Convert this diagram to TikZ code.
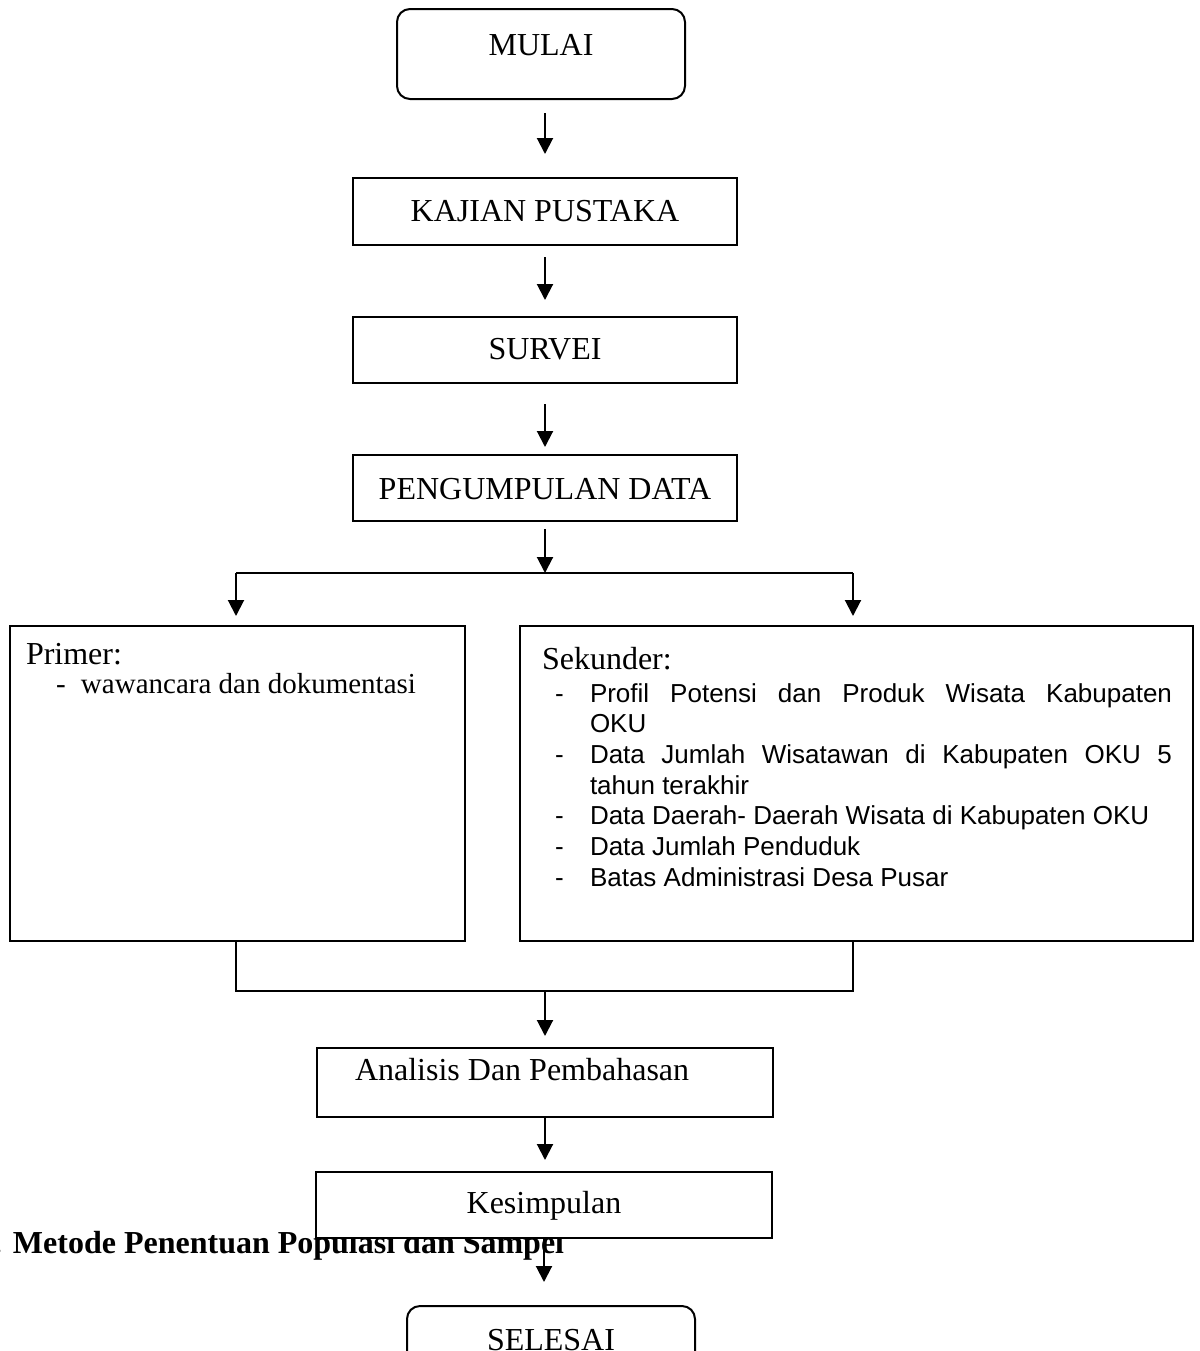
\documentclass[tikz,border=0pt]{standalone}
\usepackage{fontspec}
\setmainfont{Liberation Serif}
\newfontfamily\arialfont{Liberation Sans}
\usetikzlibrary{arrows.meta,positioning}
\newcommand{\butir}[1]{\hangindent=17.5pt\hangafter=1\noindent\makebox[17.5pt][l]{-}#1\par}

\begin{document}
\begin{tikzpicture}[x=0.5pt,y=-0.5pt,line width=1pt,
    kotak/.style={draw,rectangle,inner sep=0pt,font=\fontsize{16}{19}\selectfont},
    mulaiselesai/.style={kotak,rounded corners=6.5pt,minimum width=144pt,text height=22pt,text depth=23pt},
    langkah/.style={kotak,minimum width=192pt,text height=20.5pt,text depth=13pt},
    teks/.style={inner sep=0pt,font=\fontsize{16}{19}\selectfont},
    panah/.style={-{Triangle[length=8pt,width=8pt]}}]
    \useasboundingbox (0,0) rectangle (1200,1351);
    \node[teks,anchor=base west,font=\bfseries\fontsize{16}{19}\selectfont] (judul) at (12,1253) {\llap{.\hspace{5.5pt}}Metode Penentuan Populasi dan Sampel};
    \node[mulaiselesai,text height=23pt,text depth=22pt] at (541,54) (mulai) {MULAI};
    \node[langkah,text height=21.5pt,text depth=12pt] at (545,211.5) (kajian) {KAJIAN PUSTAKA};
    \node[langkah,text height=21pt,text depth=12pt] at (545,350) (survei) {SURVEI};
    \node[langkah,text height=22pt,text depth=11pt] at (545,488) (pengumpulan) {PENGUMPULAN DATA};
    \node[kotak,minimum width=227.5pt,minimum height=157.5pt] at (237.5,783.5) (primer) {};
    \node[kotak,minimum width=336.5pt,minimum height=157.5pt] at (856.5,783.5) (sekunder) {};
    \node[teks,anchor=base west] at (25,664) (primerjudul) {Primer:};
    \node[teks,anchor=base west,font=\fontsize{14.5}{17}\selectfont] at (55,693) (primerisi) {\makebox[12.5pt][l]{-}wawancara dan dokumentasi};
    \node[teks,anchor=base west] at (541,669) (sekunderjudul) {Sekunder:};
    \node[teks,anchor=base west,text width=308.5pt,align=justify,font=\arialfont\fontsize{13}{15.35}\selectfont] at (554,702) (sekunderisi) {\hyphenpenalty=10000%
        \butir{Profil Potensi dan Produk Wisata Kabupaten\linebreak OKU}%
        \butir{Data Jumlah Wisatawan di Kabupaten OKU 5\linebreak tahun terakhir}%
        \butir{Data Daerah- Daerah Wisata di Kabupaten OKU}%
        \butir{Data Jumlah Penduduk}%
        \butir{Batas Administrasi Desa Pusar}};
    \node[kotak,minimum width=228pt,text width=190pt,inner xsep=19pt,align=flush left,text height=16pt,text depth=18.5pt] at (545,1082.5) (analisis) {Analisis Dan Pembahasan};
    \node[kotak,fill=white,minimum width=228pt,text height=20.5pt,text depth=12.5pt] at (544,1205) (kesimpulan) {Kesimpulan};
    \node[mulaiselesai] at (551,1351) (selesai) {SELESAI};
    % percabangan data
    \coordinate (cabangkiri) at (236,573);
    \coordinate (cabangkanan) at (853,573);
    \coordinate (gabungkiri) at (236,991);
    \coordinate (gabungkanan) at (853,991);
    \draw[panah,shorten <=6.5pt,shorten >=11.5pt] (kajian.north |- mulai.south) -- (kajian.north);
    \draw[panah,shorten <=5.5pt,shorten >=8pt] (kajian.south) -- (survei.north);
    \draw[panah,shorten <=10pt,shorten >=3.5pt] (survei.south) -- (pengumpulan.north);
    \draw[panah,shorten <=3.5pt] (pengumpulan.south) -- (pengumpulan.south |- cabangkiri);
    \draw (cabangkiri) -- (cabangkanan);
    \draw[panah,shorten >=4.5pt] (cabangkiri) -- (cabangkiri |- primer.north);
    \draw[panah,shorten >=4.5pt] (cabangkanan) -- (cabangkanan |- sekunder.north);
    \draw (gabungkiri |- primer.south) -- (gabungkiri) -- (gabungkanan) -- (gabungkanan |- sekunder.south);
    \draw[panah,shorten >=5.5pt] (analisis.north |- gabungkiri) -- (analisis.north);
    \draw[panah,shorten >=5.5pt] (analisis.south) -- (analisis.south |- kesimpulan.north);
    \draw[panah,shorten >=11.5pt] (kesimpulan.south) -- (kesimpulan.south |- selesai.north);
\end{tikzpicture}
\end{document}
